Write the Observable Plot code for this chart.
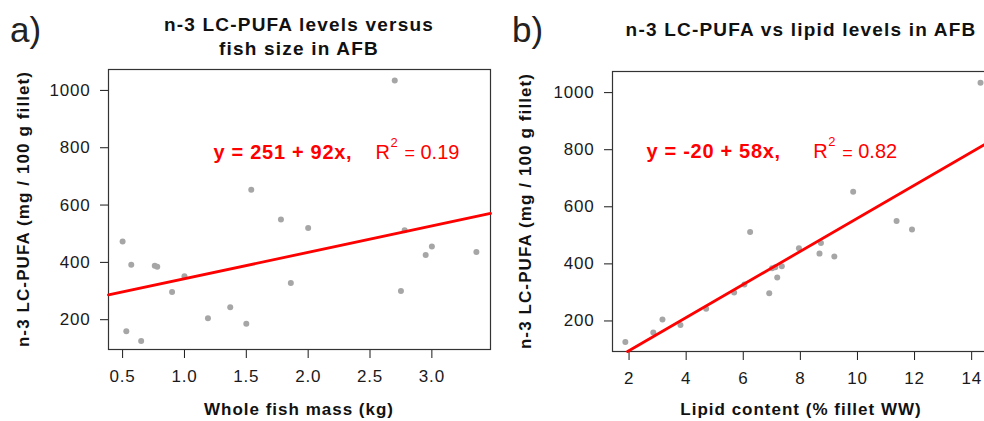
<!DOCTYPE html>
<html>
<head>
<meta charset="utf-8">
<script src="https://cdn.jsdelivr.net/npm/d3@7"></script>
<script src="https://cdn.jsdelivr.net/npm/@observablehq/plot@0.6"></script>
<style>
  html, body { margin: 0; padding: 0; background: #fff; overflow: hidden; }
  #root { position: relative; width: 984px; height: 421px; overflow: hidden; font-family: "Liberation Sans", Arial, sans-serif; }
  #root > svg { position: absolute; top: 0; }
  g[aria-label$="tick label"] text { letter-spacing: 0.8px; }
  .ttl { font-weight: bold; fill: #111; }
</style>
</head>
<body>
<div id="root"></div>
<script>
// ---- data ----
const fishMass = [0.50, 0.53, 0.57, 0.65, 0.76, 0.78, 0.90, 1.00, 1.19, 1.37, 1.50, 1.54, 1.78, 1.86, 2.00, 2.70, 2.78, 2.75, 2.95, 3.00, 3.36]; // kg
const lipid    = [8.72, 2.85, 7.35, 1.87, 7.12, 7.01, 6.91, 7.19, 3.17, 4.70, 3.80, 9.85, 11.37, 6.04, 11.91, 14.31, 6.24, 5.68, 9.19, 7.95, 8.67]; // % fillet WW
const pufa     = [473, 160, 392, 126, 388, 385, 297, 352, 205, 243, 186, 653, 550, 328, 520, 1035, 512, 300, 426, 455, 436]; // mg/100 g
const intercepts = [251, -20];
const slopes = [92, 58];
const r2 = ["0.19", "0.82"];
const xTicksA = [0.5, 1.0, 1.5, 2.0, 2.5, 3.0];
const xTicksB = [2, 4, 6, 8, 10, 12, 14];
const yTicks = [200, 400, 600, 800, 1000];
const eqPos = [{x: 1.235, y: 783, rx: 2.544}, {x: 2.611, y: 792, rx: 8.45}];

const rows = fishMass.map((m, i) => ({mass: m, lipid: lipid[i], pufa: pufa[i]}));

function regLine(k, xd, yd) {
  const a = intercepts[k], b = slopes[k];
  let x0 = xd[0], x1 = xd[1];
  x0 = Math.max(x0, (yd[0] - a) / b);
  x1 = Math.min(x1, (yd[1] - a) / b);
  return [{x: x0, y: a + b * x0}, {x: x1, y: a + b * x1}];
}

function panel(k, xKey, xd, yd, xTicks, xFmt, opts) {
  const pos = eqPos[k];
  const eqText = `y = ${intercepts[k]} + ${slopes[k]}x,`;
  return Plot.plot({
    width: opts.width, height: 421,
    marginLeft: opts.ml, marginRight: opts.mr, marginTop: opts.mt, marginBottom: opts.mb,
    style: {fontFamily: '"Liberation Sans", Arial, sans-serif', fontSize: "17px", color: "#1a1a1a", background: "transparent", overflow: "visible"},
    x: {domain: xd, ticks: xTicks, tickFormat: xFmt, label: null, tickSize: 9, tickPadding: 11},
    y: {domain: yd, ticks: yTicks, tickFormat: d3.format("d"), label: null, tickSize: 8, tickPadding: 10},
    marks: [
      Plot.frame({stroke: "#333", strokeWidth: 1.2}),
      Plot.dot(rows, {x: xKey, y: "pufa", r: 3, fill: "#a6a6a6", stroke: "none"}),
      Plot.line(regLine(k, xd, yd), {x: "x", y: "y", stroke: "#ff0000", strokeWidth: 2.8}),
      Plot.text([pos], {x: "x", y: "y", text: () => eqText, textAnchor: "start", fill: "#ff0000", fontWeight: "bold", fontSize: 20, ariaDescription: "eq"}),
      Plot.text([pos], {x: "rx", y: "y", text: () => "R", textAnchor: "start", fill: "#ff0000", fontSize: 20}),
      Plot.text([pos], {x: "rx", y: "y", text: () => "2", textAnchor: "start", fill: "#ff0000", fontSize: 13, dx: 15, dy: -10}),
      Plot.text([pos], {x: "rx", y: "y", text: () => "=", textAnchor: "start", fill: "#ff0000", fontSize: 18, dx: 29, dy: 1}),
      Plot.text([pos], {x: "rx", y: "y", text: () => r2[k], textAnchor: "start", fill: "#ff0000", fontSize: 20, dx: 45})
    ]
  });
}

const root = document.getElementById("root");
const svgA = panel(0, "mass", [0.386, 3.474], [96, 1073], xTicksA, d3.format(".1f"), {width: 500, ml: 108, mr: 10, mt: 69, mb: 72});
svgA.style.left = "0px";
root.appendChild(svgA);
const svgB = panel(1, "lipid", [1.42, 14.80], [93, 1074], xTicksB, d3.format("d"), {width: 504, ml: 122, mr: 0, mt: 71, mb: 70});
svgB.style.left = "490px";
root.appendChild(svgB);
d3.selectAll('g[aria-description="eq"] text').style("letter-spacing", "0.7px");

// ---- titles and axis labels (overlay) ----
const ov = d3.select(root).append("svg").attr("width", 984).attr("height", 421).style("left", "0px").style("pointer-events", "none");
ov.append("text").attr("x", 10).attr("y", 42).attr("font-size", 35).attr("fill", "#222").text("a)");
ov.append("text").attr("x", 512).attr("y", 42).attr("font-size", 35).attr("fill", "#222").text("b)");
const t = (x, y, s, size, ls) => ov.append("text").attr("class", "ttl").attr("x", x).attr("y", y).attr("text-anchor", "middle").attr("font-size", size).style("letter-spacing", ls + "px").text(s);
t(299, 31, "n-3 LC-PUFA levels versus", 19, 1.2);
t(299, 55, "fish size in AFB", 19, 1.2);
t(801, 36, "n-3 LC-PUFA vs lipid levels in AFB", 19, 1.2);
t(299, 415, "Whole fish mass (kg)", 17, 1);
t(801, 415, "Lipid content (% fillet WW)", 17, 1);
t(0, 0, "n-3 LC-PUFA (mg / 100 g fillet)", 17, 1.1).attr("transform", "translate(29,209) rotate(-90)");
t(0, 0, "n-3 LC-PUFA (mg / 100 g fillet)", 17, 1.1).attr("transform", "translate(531,211) rotate(-90)");
</script>
</body>
</html>
